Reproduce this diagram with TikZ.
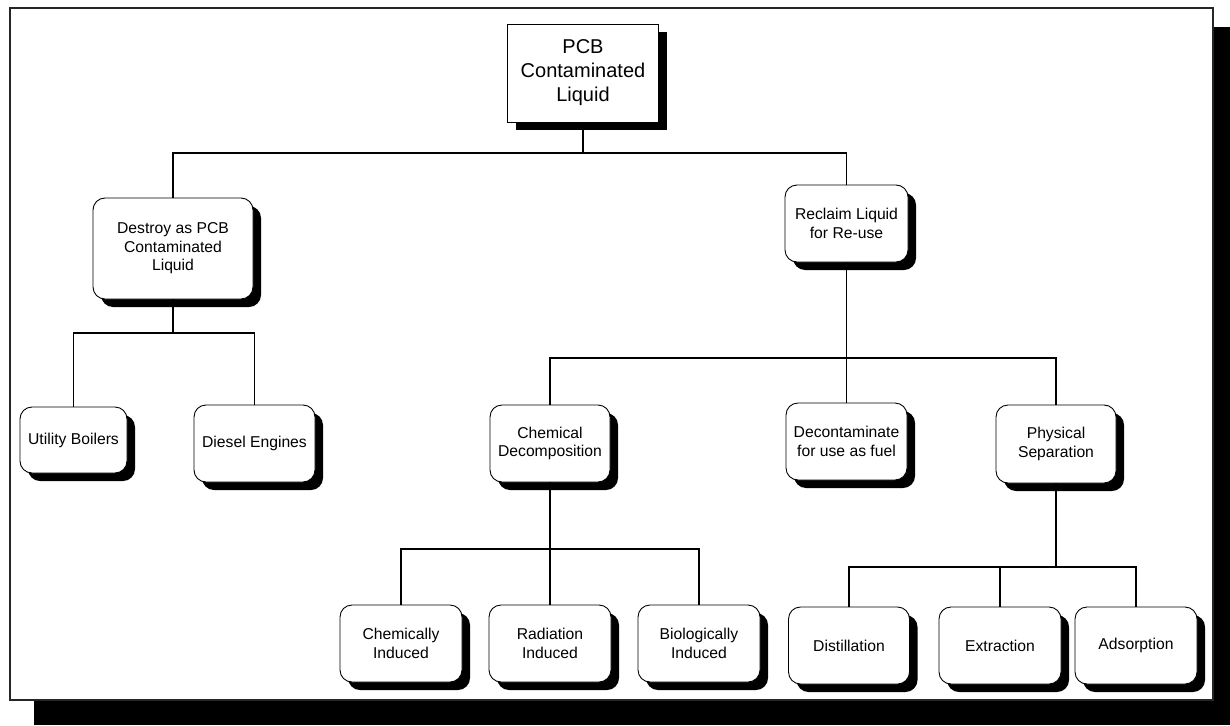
\documentclass[tikz,border=0pt]{standalone}
\usepackage{fontspec}
\setmainfont{Liberation Sans}
\usetikzlibrary{shadows}
\begin{document}
\begin{tikzpicture}[x=1pt,y=-1pt,
  rbox/.style={draw=black, line width=0.9pt, fill=white, rounded corners=12pt,
    align=center, inner sep=0pt, font=\fontsize{15.7}{18.5}\selectfont,
    drop shadow={shadow xshift=8pt, shadow yshift=-8pt, fill=black, opacity=1}},
  sbox/.style={draw=black, line width=0.9pt, fill=white,
    align=center, inner sep=0pt, font=\fontsize{20}{24}\selectfont,
    drop shadow={shadow xshift=8pt, shadow yshift=-8pt, fill=black, opacity=1}},
  conn/.style={draw=black, line width=1.4pt}]
\useasboundingbox (0,0) rectangle (1230,725);
% frame
\fill[black] (34,27) rectangle (1230,725);
\filldraw[fill=white, draw=black!85, line width=2pt] (10,8) rectangle (1213,700);
% nodes
\node[sbox, minimum width=151pt, minimum height=98pt] (pcb) at (583,73) {PCB\\Contaminated\\Liquid};
\node[rbox, minimum width=160pt, minimum height=101pt] (destroy) at (173,248.5) {Destroy as PCB\\Contaminated\\Liquid};
\node[rbox, minimum width=123pt, minimum height=77pt] (reclaim) at (846.5,223.5) {Reclaim Liquid\\for Re-use};
\node[rbox, minimum width=107pt, minimum height=66pt] (utility) at (73.5,440) {Utility Boilers};
\node[rbox, minimum width=121pt, minimum height=77pt] (diesel) at (254.5,443.5) {Diesel Engines};
\node[rbox, minimum width=120pt, minimum height=77pt] (chemdec) at (550,443.5) {Chemical\\Decomposition};
\node[rbox, minimum width=121pt, minimum height=77pt] (decon) at (846.5,441.5) {Decontaminate\\for use as fuel};
\node[rbox, minimum width=120pt, minimum height=78pt] (physsep) at (1056,444) {Physical\\Separation};
\node[rbox, minimum width=122pt, minimum height=77pt] (chemind) at (401,643.5) {Chemically\\Induced};
\node[rbox, minimum width=122pt, minimum height=77pt] (radind) at (550,643.5) {Radiation\\Induced};
\node[rbox, minimum width=122pt, minimum height=77pt] (bioind) at (699,643.5) {Biologically\\Induced};
\node[rbox, minimum width=121pt, minimum height=77pt] (distill) at (849,645.5) {Distillation};
\node[rbox, minimum width=122pt, minimum height=77pt] (extract) at (1000,645.5) {Extraction};
\node[rbox, minimum width=122pt, minimum height=77pt] (adsorp) at (1136,645.5) {Adsorption};
% bus levels
\coordinate (b1) at (0,153);
\coordinate (b2) at (0,333);
\coordinate (b3) at (0,358);
\coordinate (b4) at (0,549);
\coordinate (b5) at (0,567);
% connectors
\foreach \c in {destroy,reclaim}
  \draw[conn] (pcb.south) -- (pcb.south |- b1) -| (\c.north);
\foreach \c in {utility,diesel}
  \draw[conn] (destroy.south) -- (destroy.south |- b2) -| (\c.north);
\foreach \c in {chemdec,decon,physsep}
  \draw[conn] (reclaim.south) -- (reclaim.south |- b3) -| (\c.north);
\foreach \c in {chemind,radind,bioind}
  \draw[conn] (chemdec.south) -- (chemdec.south |- b4) -| (\c.north);
\foreach \c in {distill,extract,adsorp}
  \draw[conn] (physsep.south) -- (physsep.south |- b5) -| (\c.north);
\end{tikzpicture}
\end{document}
